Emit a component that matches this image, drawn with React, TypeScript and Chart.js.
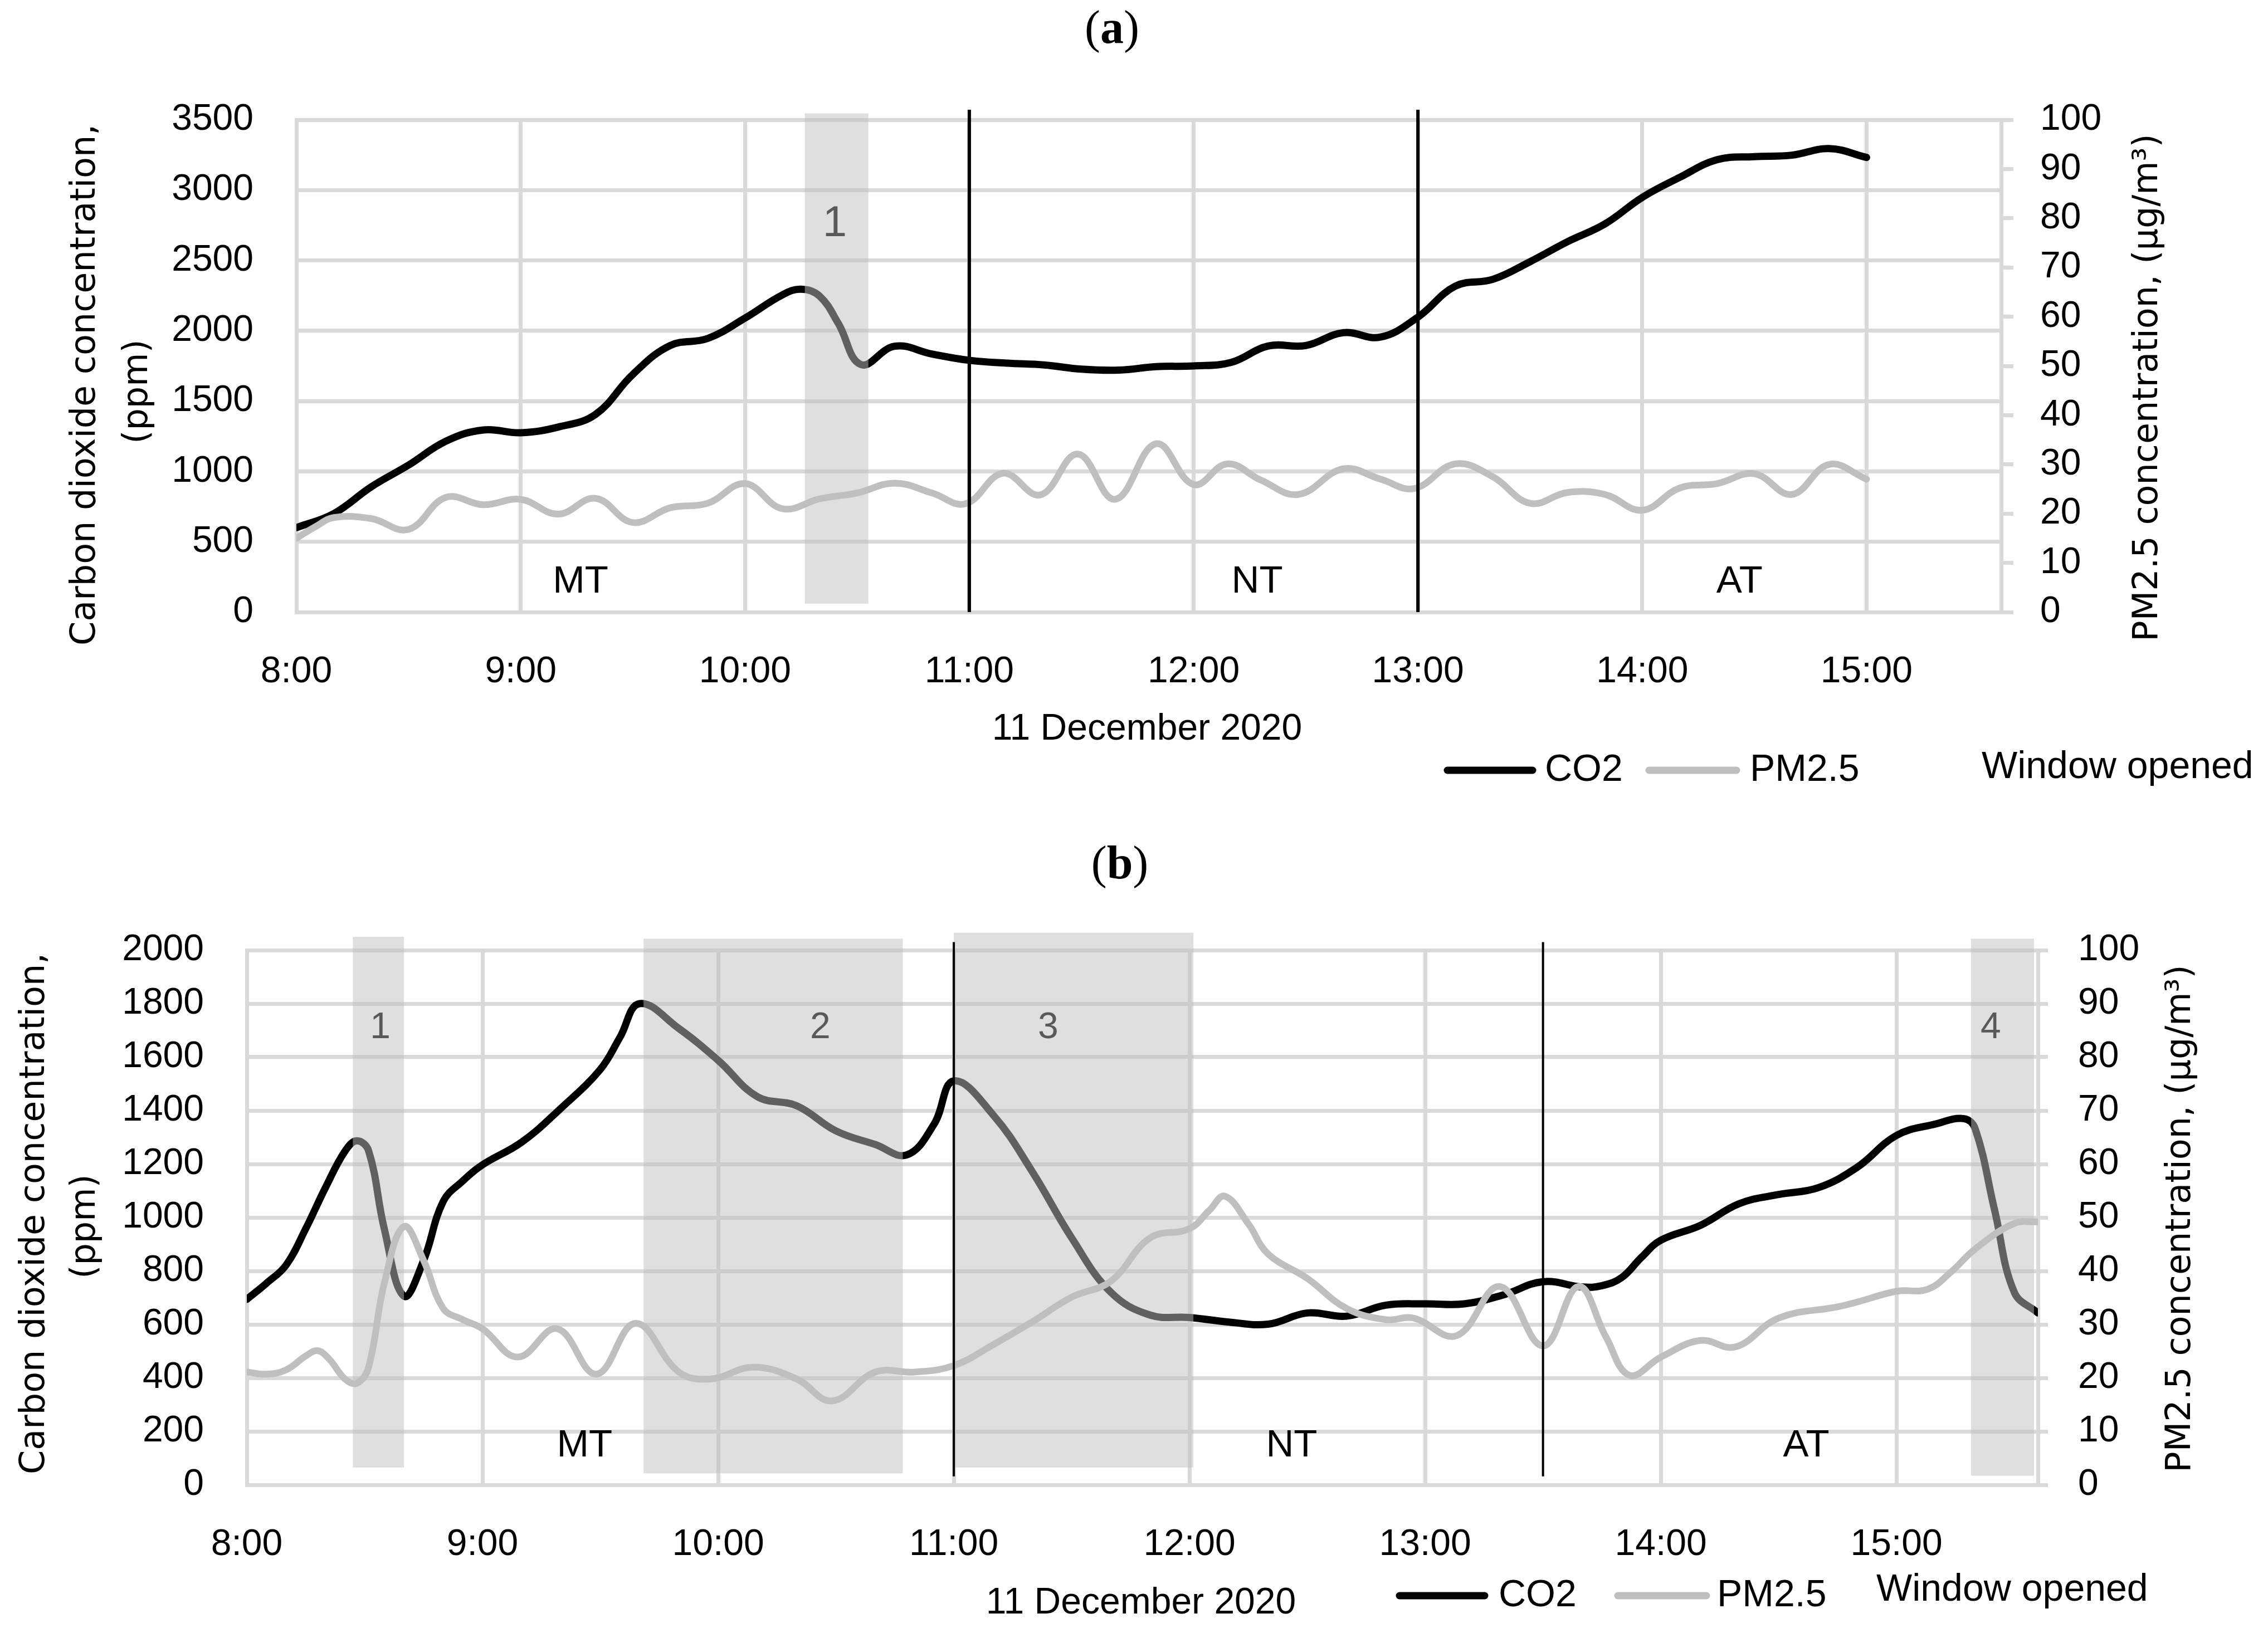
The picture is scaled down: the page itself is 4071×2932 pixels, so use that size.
import { useEffect, useRef } from "react"
import { Chart, registerables, type ChartConfiguration, type Plugin } from "chart.js"

Chart.register(...registerables)

const W = 4071
const SANS = "'Liberation Sans', Arial, sans-serif"
const WIDE = "'DejaVu Sans', Verdana, sans-serif"
const SERIF = "'Liberation Serif', 'DejaVu Serif', serif"

// ---------- (a) ----------
const aCo2Times = ["8:00", "8:10", "8:20", "8:30", "8:40", "8:50", "9:00", "9:10", "9:20", "9:30", "9:40", "9:50", "10:00", "10:10", "10:15", "10:20", "10:25", "10:31", "10:40", "10:50", "11:00", "11:10", "11:20", "11:30", "11:40", "11:50", "12:00", "12:10", "12:20", "12:30", "12:40", "12:50", "13:00", "13:10", "13:20", "13:30", "13:40", "13:50", "14:00", "14:10", "14:20", "14:30", "14:40", "14:50", "15:00"]
const aCo2 = [600, 700, 890, 1045, 1215, 1295, 1275, 1315, 1405, 1690, 1895, 1945, 2090, 2255, 2295, 2245, 2050, 1760, 1890, 1835, 1790, 1770, 1757, 1727, 1720, 1745, 1750, 1775, 1892, 1895, 1986, 1955, 2097, 2317, 2365, 2491, 2633, 2759, 2948, 3090, 3216, 3238, 3248, 3295, 3232]
const aPmTimes = ["8:00", "8:05", "8:10", "8:20", "8:30", "8:40", "8:50", "9:00", "9:10", "9:20", "9:30", "9:40", "9:50", "10:00", "10:10", "10:20", "10:30", "10:40", "10:50", "10:59", "11:09", "11:19", "11:29", "11:39", "11:50", "12:00", "12:09", "12:18", "12:28", "12:40", "12:50", "12:59", "13:10", "13:20", "13:30", "13:40", "13:50", "14:00", "14:10", "14:20", "14:30", "14:40", "14:50", "15:00"]
const aPm = [15, 17.3, 19.2, 19, 16.8, 23.3, 21.8, 22.9, 19.9, 23.1, 18.2, 21.2, 22.1, 26.1, 21, 23, 24.2, 26.2, 24.2, 22, 28.2, 23.8, 32.1, 22.9, 34.2, 25.9, 30.1, 26.8, 23.9, 29.1, 27, 25.1, 30.1, 27.5, 22.1, 24.3, 23.9, 20.7, 25.2, 26.1, 28.1, 23.9, 30, 27]
const aWindowStart = ["10:16"]
const aWindowEnd = ["10:33"]
const aWindowLow = [60]
const aWindowHigh = [3545]
const aWindowLabels = ["1"]
const aWindowLabelTimes = ["10:24"]
const aDividers = ["11:00", "13:00"]
const aPeriods = ["MT", "NT", "AT"]
const aPeriodTimes = ["9:16", "12:17", "14:26"]

// ---------- (b) ----------
const bCo2Times = ["8:00", "8:05", "8:10", "8:15", "8:20", "8:25", "8:28", "8:31", "8:35", "8:40", "8:45", "8:50", "8:55", "9:00", "9:10", "9:20", "9:30", "9:35", "9:40", "9:50", "10:00", "10:10", "10:20", "10:30", "10:40", "10:48", "10:55", "11:00", "11:10", "11:20", "11:30", "11:40", "11:50", "12:00", "12:10", "12:20", "12:30", "12:40", "12:50", "13:00", "13:10", "13:20", "13:30", "13:40", "13:45", "13:50", "13:55", "14:00", "14:10", "14:20", "14:30", "14:40", "14:50", "15:00", "15:10", "15:17", "15:20", "15:25", "15:30", "15:36"]
const bCo2 = [694, 754, 822, 958, 1111, 1248, 1287, 1250, 958, 706, 839, 1060, 1137, 1197, 1282, 1409, 1554, 1674, 1800, 1707, 1588, 1452, 1418, 1324, 1273, 1234, 1350, 1511, 1384, 1171, 924, 720, 635, 626, 609, 601, 643, 631, 672, 677, 677, 711, 760, 740, 745, 775, 850, 915, 970, 1052, 1086, 1111, 1188, 1307, 1350, 1370, 1333, 1026, 720, 643]
const bPmTimes = ["8:00", "8:05", "8:10", "8:15", "8:18", "8:21", "8:25", "8:28", "8:31", "8:35", "8:40", "8:45", "8:50", "8:55", "9:00", "9:09", "9:19", "9:29", "9:39", "9:50", "9:58", "10:09", "10:20", "10:29", "10:40", "10:50", "11:00", "11:10", "11:20", "11:30", "11:40", "11:50", "12:00", "12:05", "12:09", "12:15", "12:20", "12:30", "12:40", "12:50", "12:57", "13:08", "13:19", "13:30", "13:39", "13:46", "13:52", "14:00", "14:10", "14:19", "14:30", "14:45", "14:50", "15:00", "15:08", "15:14", "15:20", "15:30", "15:36"]
const bPm = [21.1, 20.7, 21.5, 24.1, 25.1, 23.5, 19.8, 19.0, 22, 37.7, 48.3, 42, 33, 30.9, 29.2, 23.9, 29.2, 20.7, 30.2, 21.1, 19.8, 22, 19.8, 15.7, 21.1, 21.1, 22.3, 26.2, 30.5, 35.1, 38.1, 46.2, 47.9, 51.3, 54, 48.8, 43.2, 38.6, 33, 30.9, 31.2, 27.9, 37.1, 26, 37.1, 27.7, 20.5, 23.9, 27, 25.8, 31.2, 33.3, 34.2, 36.2, 36.6, 39.9, 44.1, 48.9, 49.2]
const bWindowStart = ["8:27", "9:41", "11:00", "15:19"]
const bWindowEnd = ["8:40", "10:47", "12:01", "15:35"]
const bWindowLow = [65, 43, 65, 34]
const bWindowHigh = [2050, 2043, 2065, 2043]
const bWindowLabels = ["1", "2", "3", "4"]
const bWindowLabelTimes = ["8:34", "10:26", "11:24", "15:24"]
const bDividers = ["11:00", "13:30"]
const bPeriods = ["MT", "NT", "AT"]
const bPeriodTimes = ["9:26", "12:26", "14:37"]

const toMin = (t: string) => {
  const [h, m] = t.split(":").map(Number)
  return h * 60 + m
}
const fmtTime = (v: number) => `${Math.floor(v / 60)}:${String(v % 60).padStart(2, "0")}`

interface PanelSpec {
  tag: string
  top: number
  height: number
  area: { left: number; right: number; top: number; bottom: number }
  co2Max: number
  co2Step: number
  co2Times: string[]
  co2: number[]
  pmTimes: string[]
  pm: number[]
  windowStart: string[]
  windowEnd: string[]
  windowLow: number[]
  windowHigh: number[]
  windowLabels: string[]
  windowLabelTimes: string[]
  windowLabelLevel: number
  windowLabelSize: number
  dividers: string[]
  dividerTop: number
  dividerBottom: number
  dividerWidth: number
  periods: string[]
  periodTimes: string[]
  periodLevel: number
  rightTick: number
  rightPad: number
  // text layout (canvas pixels)
  tagPos: [number, number]
  leftTitle: [number, number][]
  rightTitle: [number, number]
  xTitle: [number, number]
  legendY: number
  legendWinY: number
  co2Swatch: [number, number]
  co2TextX: number
  pmSwatch: [number, number]
  pmTextX: number
  winTextX: number
}

const panelA: PanelSpec = {
  tag: "a",
  top: 0,
  height: 1460,
  area: { left: 532, right: 3592, top: 215, bottom: 1099 },
  co2Max: 3500,
  co2Step: 500,
  co2Times: aCo2Times,
  co2: aCo2,
  pmTimes: aPmTimes,
  pm: aPm,
  windowStart: aWindowStart,
  windowEnd: aWindowEnd,
  windowLow: aWindowLow,
  windowHigh: aWindowHigh,
  windowLabels: aWindowLabels,
  windowLabelTimes: aWindowLabelTimes,
  windowLabelLevel: 2758,
  windowLabelSize: 78,
  dividers: aDividers,
  dividerTop: 3571,
  dividerBottom: 0,
  dividerWidth: 6,
  periods: aPeriods,
  periodTimes: aPeriodTimes,
  periodLevel: 212,
  rightTick: 22,
  rightPad: 48,
  tagPos: [1996, 55],
  leftTitle: [[154, 691], [248, 703]],
  rightTitle: [3856, 696],
  xTitle: [2059, 1310],
  legendY: 1383,
  legendWinY: 1378,
  co2Swatch: [2598, 2751],
  co2TextX: 2773,
  pmSwatch: [2960, 3117],
  pmTextX: 3141,
  winTextX: 3557,
}

const panelB: PanelSpec = {
  tag: "b",
  top: 1460,
  height: 1472,
  area: { left: 443, right: 3658, top: 246, bottom: 1206 },
  co2Max: 2000,
  co2Step: 200,
  co2Times: bCo2Times,
  co2: bCo2,
  pmTimes: bPmTimes,
  pm: bPm,
  windowStart: bWindowStart,
  windowEnd: bWindowEnd,
  windowLow: bWindowLow,
  windowHigh: bWindowHigh,
  windowLabels: bWindowLabels,
  windowLabelTimes: bWindowLabelTimes,
  windowLabelLevel: 1708,
  windowLabelSize: 66,
  dividers: bDividers,
  dividerTop: 2030,
  dividerBottom: 32,
  dividerWidth: 4,
  periods: bPeriods,
  periodTimes: bPeriodTimes,
  periodLevel: 146,
  rightTick: 18,
  rightPad: 54,
  tagPos: [2010, 95],
  leftTitle: [[63, 719], [154, 742]],
  rightTitle: [3915, 728],
  xTitle: [2048, 1419],
  legendY: 1405,
  legendWinY: 1395,
  co2Swatch: [2512, 2665],
  co2TextX: 2690,
  pmSwatch: [2904, 3063],
  pmTextX: 3082,
  winTextX: 3368,
}

function text(
  ctx: CanvasRenderingContext2D,
  s: string,
  x: number,
  y: number,
  font: string,
  color = "#000",
  align: CanvasTextAlign = "center",
  rotate = 0,
) {
  ctx.save()
  ctx.translate(x, y)
  if (rotate) ctx.rotate(rotate)
  ctx.font = font
  ctx.fillStyle = color
  ctx.textAlign = align
  ctx.textBaseline = "middle"
  ctx.fillText(s, 0, 0)
  ctx.restore()
}

function panelPlugin(p: PanelSpec): Plugin<"line"> {
  const pmIndex = p.dividers.length
  return {
    id: "panel-" + p.tag,
    afterDatasetDraw(chart, args) {
      // window-opened shading goes over both curves but under the period dividers
      if (args.index !== pmIndex) return
      const { ctx, scales } = chart
      ctx.save()
      ctx.fillStyle = "rgba(191,191,191,0.5)"
      p.windowStart.forEach((s, i) => {
        const x0 = scales.x.getPixelForValue(toMin(s))
        const x1 = scales.x.getPixelForValue(toMin(p.windowEnd[i]))
        const y0 = scales.y.getPixelForValue(p.windowHigh[i])
        const y1 = scales.y.getPixelForValue(p.windowLow[i])
        ctx.fillRect(x0, y0, x1 - x0, y1 - y0)
      })
      ctx.restore()
    },
    afterDraw(chart) {
      const { ctx, scales } = chart
      const xs = scales.x
      const ys = scales.y

      p.windowLabels.forEach((l, i) => {
        text(ctx, l, xs.getPixelForValue(toMin(p.windowLabelTimes[i])), ys.getPixelForValue(p.windowLabelLevel), `${p.windowLabelSize}px ${SANS}`, "#595959")
      })
      p.periods.forEach((l, i) => {
        text(ctx, l, xs.getPixelForValue(toMin(p.periodTimes[i])), ys.getPixelForValue(p.periodLevel), `69px ${SANS}`)
      })

      // (a) / (b)
      const normal = `84px ${SERIF}`
      const bold = `bold 84px ${SERIF}`
      ctx.save()
      ctx.font = normal
      const wp = ctx.measureText("(").width
      const wq = ctx.measureText(")").width
      ctx.font = bold
      const wt = ctx.measureText(p.tag).width
      ctx.restore()
      let tx = p.tagPos[0] - (wp + wt + wq) / 2
      text(ctx, "(", tx, p.tagPos[1], normal, "#000", "left")
      tx += wp
      text(ctx, p.tag, tx, p.tagPos[1], bold, "#000", "left")
      tx += wt
      text(ctx, ")", tx, p.tagPos[1], normal, "#000", "left")

      // axis titles
      const titleFont = `62px ${WIDE}`
      text(ctx, "Carbon dioxide concentration,", p.leftTitle[0][0], p.leftTitle[0][1], titleFont, "#000", "center", -Math.PI / 2)
      text(ctx, "(ppm)", p.leftTitle[1][0], p.leftTitle[1][1], titleFont, "#000", "center", -Math.PI / 2)
      text(ctx, "PM2.5 concentration, (\u00b5g/m\u00b3)", p.rightTitle[0], p.rightTitle[1], titleFont, "#000", "center", -Math.PI / 2)
      text(ctx, "11 December 2020", p.xTitle[0], p.xTitle[1], `66px ${SANS}`)

      // legend
      ctx.save()
      ctx.lineWidth = 13
      ctx.lineCap = "round"
      ctx.strokeStyle = "#000"
      ctx.beginPath()
      ctx.moveTo(p.co2Swatch[0], p.legendY)
      ctx.lineTo(p.co2Swatch[1], p.legendY)
      ctx.stroke()
      ctx.strokeStyle = "#bfbfbf"
      ctx.beginPath()
      ctx.moveTo(p.pmSwatch[0], p.legendY)
      ctx.lineTo(p.pmSwatch[1], p.legendY)
      ctx.stroke()
      ctx.restore()
      const legendFont = `68px ${SANS}`
      text(ctx, "CO2", p.co2TextX, p.legendY, legendFont, "#000", "left")
      text(ctx, "PM2.5", p.pmTextX, p.legendY, legendFont, "#000", "left")
      text(ctx, "Window opened", p.winTextX, p.legendWinY, legendFont, "#000", "left")
    },
  }
}

function buildConfig(p: PanelSpec): ChartConfiguration<"line"> {
  const pts = (times: string[], vals: number[]) => times.map((t, i) => ({ x: toMin(t), y: vals[i] }))
  const tickFont = { family: SANS, size: 66 }
  const gridColor = "#d9d9d9"

  return {
    type: "line",
    data: {
      datasets: [
        ...p.dividers.map((d) => ({
          label: "period",
          data: [
            { x: toMin(d), y: p.dividerTop },
            { x: toMin(d), y: p.dividerBottom },
          ],
          yAxisID: "y",
          borderColor: "#000",
          borderWidth: p.dividerWidth,
          pointRadius: 0,
          tension: 0,
          clip: false as const,
        })),
        {
          label: "PM2.5",
          data: pts(p.pmTimes, p.pm),
          yAxisID: "y1",
          borderColor: "#bfbfbf",
          borderWidth: 12,
          pointRadius: 0,
          tension: 0.4,
          borderCapStyle: "round" as const,
          borderJoinStyle: "round" as const,
        },
        {
          label: "CO2",
          data: pts(p.co2Times, p.co2),
          yAxisID: "y",
          borderColor: "#000",
          borderWidth: 13,
          pointRadius: 0,
          tension: 0.4,
          borderCapStyle: "round" as const,
          borderJoinStyle: "round" as const,
        },
      ],
    },
    options: {
      responsive: true,
      maintainAspectRatio: false,
      animation: false,
      devicePixelRatio: 1,
      events: [],
      layout: { padding: { top: p.area.top, left: 0, right: 0, bottom: 0 } },
      plugins: {
        legend: { display: false },
        tooltip: { enabled: false },
      },
      scales: {
        x: {
          type: "linear",
          min: 480,
          max: 936,
          afterFit: (s) => {
            s.height = p.height - p.area.bottom
          },
          ticks: {
            stepSize: 60,
            includeBounds: false,
            autoSkip: false,
            maxRotation: 0,
            padding: 68,
            color: "#000",
            font: tickFont,
            callback: (v) => fmtTime(Number(v)),
          },
          grid: { color: gridColor, lineWidth: 7, drawTicks: false },
          border: { color: gridColor, width: 7 },
        },
        y: {
          position: "left",
          min: 0,
          max: p.co2Max,
          afterFit: (s) => {
            s.width = p.area.left
          },
          ticks: {
            stepSize: p.co2Step,
            autoSkip: false,
            padding: 77,
            color: "#000",
            font: tickFont,
            callback: (v) => String(v),
          },
          grid: { color: gridColor, lineWidth: 7, drawTicks: false },
          border: { color: gridColor, width: 7 },
        },
        y1: {
          position: "right",
          min: 0,
          max: 100,
          afterFit: (s) => {
            s.width = W - p.area.right
          },
          ticks: {
            stepSize: 10,
            autoSkip: false,
            padding: p.rightPad,
            color: "#000",
            font: tickFont,
            callback: (v) => String(v),
          },
          grid: { color: gridColor, lineWidth: 7, drawOnChartArea: false, drawTicks: true, tickLength: p.rightTick },
          border: { color: gridColor, width: 7 },
        },
      },
    },
    plugins: [panelPlugin(p)],
  }
}

function Panel({ spec }: { spec: PanelSpec }) {
  const canvasRef = useRef<HTMLCanvasElement>(null)

  useEffect(() => {
    if (!canvasRef.current) return
    const chart = new Chart(canvasRef.current, buildConfig(spec))
    return () => {
      chart.destroy()
    }
  }, [spec])

  return (
    <div style={{ position: "absolute", left: 0, top: spec.top, width: W, height: spec.height }}>
      <canvas ref={canvasRef}></canvas>
    </div>
  )
}

export default function App() {
  return (
    <div style={{ position: "absolute", left: 0, top: 0, width: W, height: 2932, background: "#fff" }}>
      <Panel spec={panelA} />
      <Panel spec={panelB} />
    </div>
  )
}
